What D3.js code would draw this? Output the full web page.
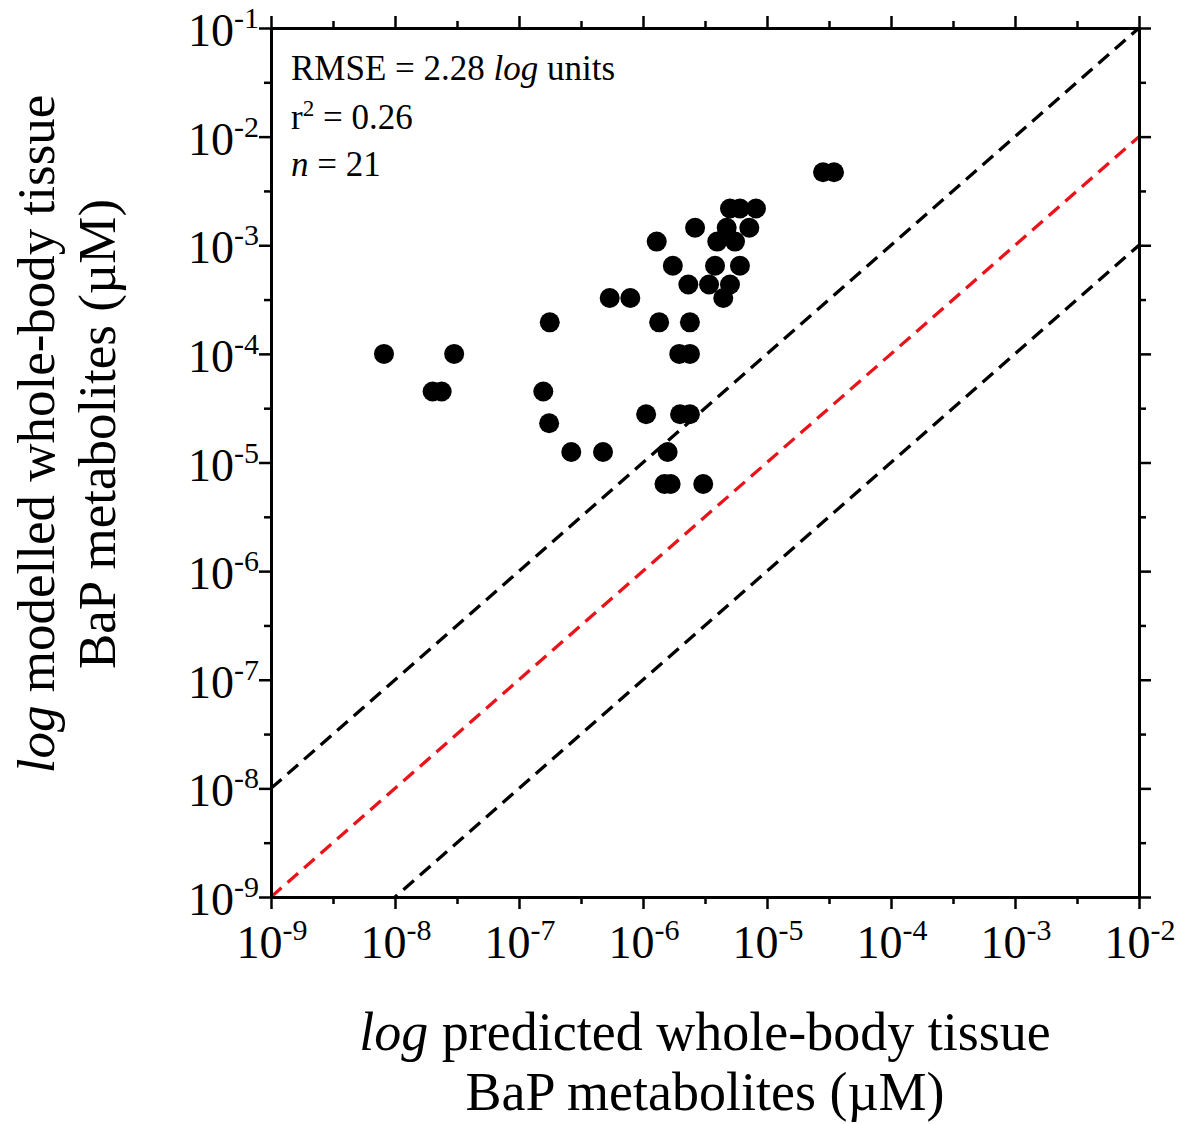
<!DOCTYPE html>
<html>
<head>
<meta charset="utf-8">
<script src="https://cdn.jsdelivr.net/npm/d3@7"></script>
<style>
  html, body { margin: 0; padding: 0; background: #fff; }
  svg { display: block; }
  text { font-family: "Liberation Serif", "Times New Roman", serif; fill: #000; }
</style>
</head>
<body>
<svg id="chart" width="1180" height="1124"></svg>
<script>
// ---- Data ----
const predicted = [
  8.15e-9, 3.0e-8, 2.01e-8, 2.38e-8,
  1.77e-7, 1.57e-7, 1.75e-7, 2.64e-7, 4.76e-7,
  5.39e-7, 7.9e-7,
  1.29e-6, 1.74e-6, 1.35e-6, 2.32e-6, 2.39e-6,
  1.96e-6, 2.39e-6, 1.06e-6, 1.99e-6, 2.39e-6,
  1.58e-6, 1.49e-6, 1.67e-6, 3.06e-6,
  2.63e-6, 5.03e-6, 6.05e-6, 8.15e-6,
  4.73e-6, 7.2e-6, 3.97e-6, 5.52e-6,
  3.81e-6, 6.05e-6, 3.41e-6, 5.03e-6, 4.44e-6,
  2.83e-5, 3.47e-5
];
const modelled = [
  1.0e-4, 1.0e-4, 4.5e-5, 4.5e-5,
  1.95e-4, 4.5e-5, 2.3e-5, 1.25e-5, 1.25e-5,
  3.27e-4, 3.27e-4,
  1.08e-3, 6.48e-4, 1.95e-4, 4.35e-4, 1.95e-4,
  1.0e-4, 1.0e-4, 2.78e-5, 2.78e-5, 2.78e-5,
  1.25e-5, 6.34e-6, 6.34e-6, 6.34e-6,
  1.45e-3, 2.18e-3, 2.18e-3, 2.18e-3,
  1.45e-3, 1.45e-3, 1.08e-3, 1.08e-3,
  6.48e-4, 6.48e-4, 4.35e-4, 4.35e-4, 3.27e-4,
  4.7e-3, 4.7e-3
];
// reference lines: modelled = factor * predicted
const refFactors = [10, 1, 0.1];
const refColors = ["#000000", "#e8141a", "#000000"];

// Axis ticks (exponents of 10)
const xTickExps = [-9, -8, -7, -6, -5, -4, -3, -2];
const yTickExps = [-9, -8, -7, -6, -5, -4, -3, -2, -1];
const xDomain = [1e-9, 1e-2];
const yDomain = [1e-9, 1e-1];

const statsLines = [
  [{t: "RMSE = 2.28 "}, {t: "log", i: true}, {t: " units"}],
  [{t: "r"}, {t: "2", sup: true}, {t: " = 0.26"}],
  [{t: "n", i: true}, {t: " = 21"}]
];
const xTitle = [[{t: "log", i: true}, {t: " predicted whole-body tissue"}], [{t: "BaP metabolites (\u00B5M)"}]];
const yTitle = [[{t: "log", i: true}, {t: " modelled whole-body tissue"}], [{t: "BaP metabolites (\u00B5M)"}]];

// ---- Layout ----
const L = 271, R = 1139, T = 28, B = 897;
const svg = d3.select("#chart");
const x = d3.scaleLog().domain(xDomain).range([L, R]);
const y = d3.scaleLog().domain(yDomain).range([B, T]);

const xMajor = xTickExps.map(e => Math.pow(10, e));
const xMinor = xTickExps.slice(0, -1).map(e => Math.pow(10, e + 0.5));
const yMajor = yTickExps.map(e => Math.pow(10, e));
const yMinor = yTickExps.slice(0, -1).map(e => Math.pow(10, e + 0.5));

// clip
svg.append("defs").append("clipPath").attr("id", "plotclip")
  .append("rect").attr("x", L).attr("y", T).attr("width", R - L).attr("height", B - T);

// reference dashed lines
const gl = svg.append("g").attr("clip-path", "url(#plotclip)");
refFactors.forEach((f, i) => {
  const x0 = xDomain[0], x1 = xDomain[1];
  gl.append("line")
    .attr("x1", x(x0)).attr("y1", y(x0 * f))
    .attr("x2", x(x1)).attr("y2", y(x1 * f))
    .attr("stroke", refColors[i])
    .attr("stroke-width", 3.3)
    .attr("stroke-dasharray", "14,8");
});

// points
svg.append("g").selectAll("circle")
  .data(predicted.map((p, i) => [p, modelled[i]]))
  .join("circle")
  .attr("cx", d => x(d[0]))
  .attr("cy", d => y(d[1]))
  .attr("r", 10)
  .attr("fill", "#000");

// axes (all four sides, ticks outward)
function styleAxis(g) {
  g.selectAll("path.domain").attr("stroke", "#000").attr("stroke-width", 3);
  g.selectAll(".tick line").attr("stroke", "#000").attr("stroke-width", 2.5);
  g.selectAll(".tick text").remove();
}
function drawAxis(axisFn, scale, major, minor, transform) {
  svg.append("g").attr("transform", transform)
    .call(axisFn(scale).tickValues(minor).tickSize(7).tickSizeOuter(0).tickFormat(""))
    .call(styleAxis);
  svg.append("g").attr("transform", transform)
    .call(axisFn(scale).tickValues(major).tickSize(12).tickSizeOuter(0).tickFormat(""))
    .call(styleAxis);
}
drawAxis(d3.axisBottom, x, xMajor, xMinor, `translate(0,${B})`);
drawAxis(d3.axisTop, x, xMajor, xMinor, `translate(0,${T})`);
drawAxis(d3.axisLeft, y, yMajor, yMinor, `translate(${L},0)`);
drawAxis(d3.axisRight, y, yMajor, yMinor, `translate(${R},0)`);

// tick labels
const baseFS = 46, supFS = 30;
function powLabel(sel, e) {
  sel.append("tspan").attr("font-size", baseFS).text("10");
  sel.append("tspan").attr("font-size", supFS).attr("dy", -18).text("-" + Math.abs(e));
}
xTickExps.forEach(e => {
  const t = svg.append("text")
    .attr("x", x(Math.pow(10, e)) + 1)
    .attr("y", 958)
    .attr("text-anchor", "middle");
  powLabel(t, e);
});
yTickExps.forEach(e => {
  const t = svg.append("text")
    .attr("x", 259)
    .attr("y", y(Math.pow(10, e)) + 18)
    .attr("text-anchor", "end");
  powLabel(t, e);
});

// helper for rich text
function richText(sel, parts, fs) {
  let prevSup = false;
  parts.forEach(p => {
    const ts = sel.append("tspan").text(p.t).attr("font-size", p.sup ? fs * 0.66 : fs);
    if (p.i) ts.attr("font-style", "italic");
    if (p.sup) ts.attr("dy", -fs * 0.38);
    else if (prevSup) ts.attr("dy", fs * 0.38);
    prevSup = !!p.sup;
  });
}

// stats annotation
const statsY = [80, 129, 176];
statsLines.forEach((parts, i) => {
  const t = svg.append("text").attr("x", 291).attr("y", statsY[i]);
  richText(t, parts, 35);
});

// x title
const xTitleY = [1050, 1110];
xTitle.forEach((parts, i) => {
  const t = svg.append("text").attr("x", (L + R) / 2).attr("y", xTitleY[i]).attr("text-anchor", "middle");
  richText(t, parts, 54);
});

// y title
const yTitleX = [54, 115];
const yCenter = 434;
yTitle.forEach((parts, i) => {
  const t = svg.append("text")
    .attr("transform", `translate(${yTitleX[i]},${yCenter}) rotate(-90)`)
    .attr("text-anchor", "middle");
  richText(t, parts, 53);
});
</script>
</body>
</html>
